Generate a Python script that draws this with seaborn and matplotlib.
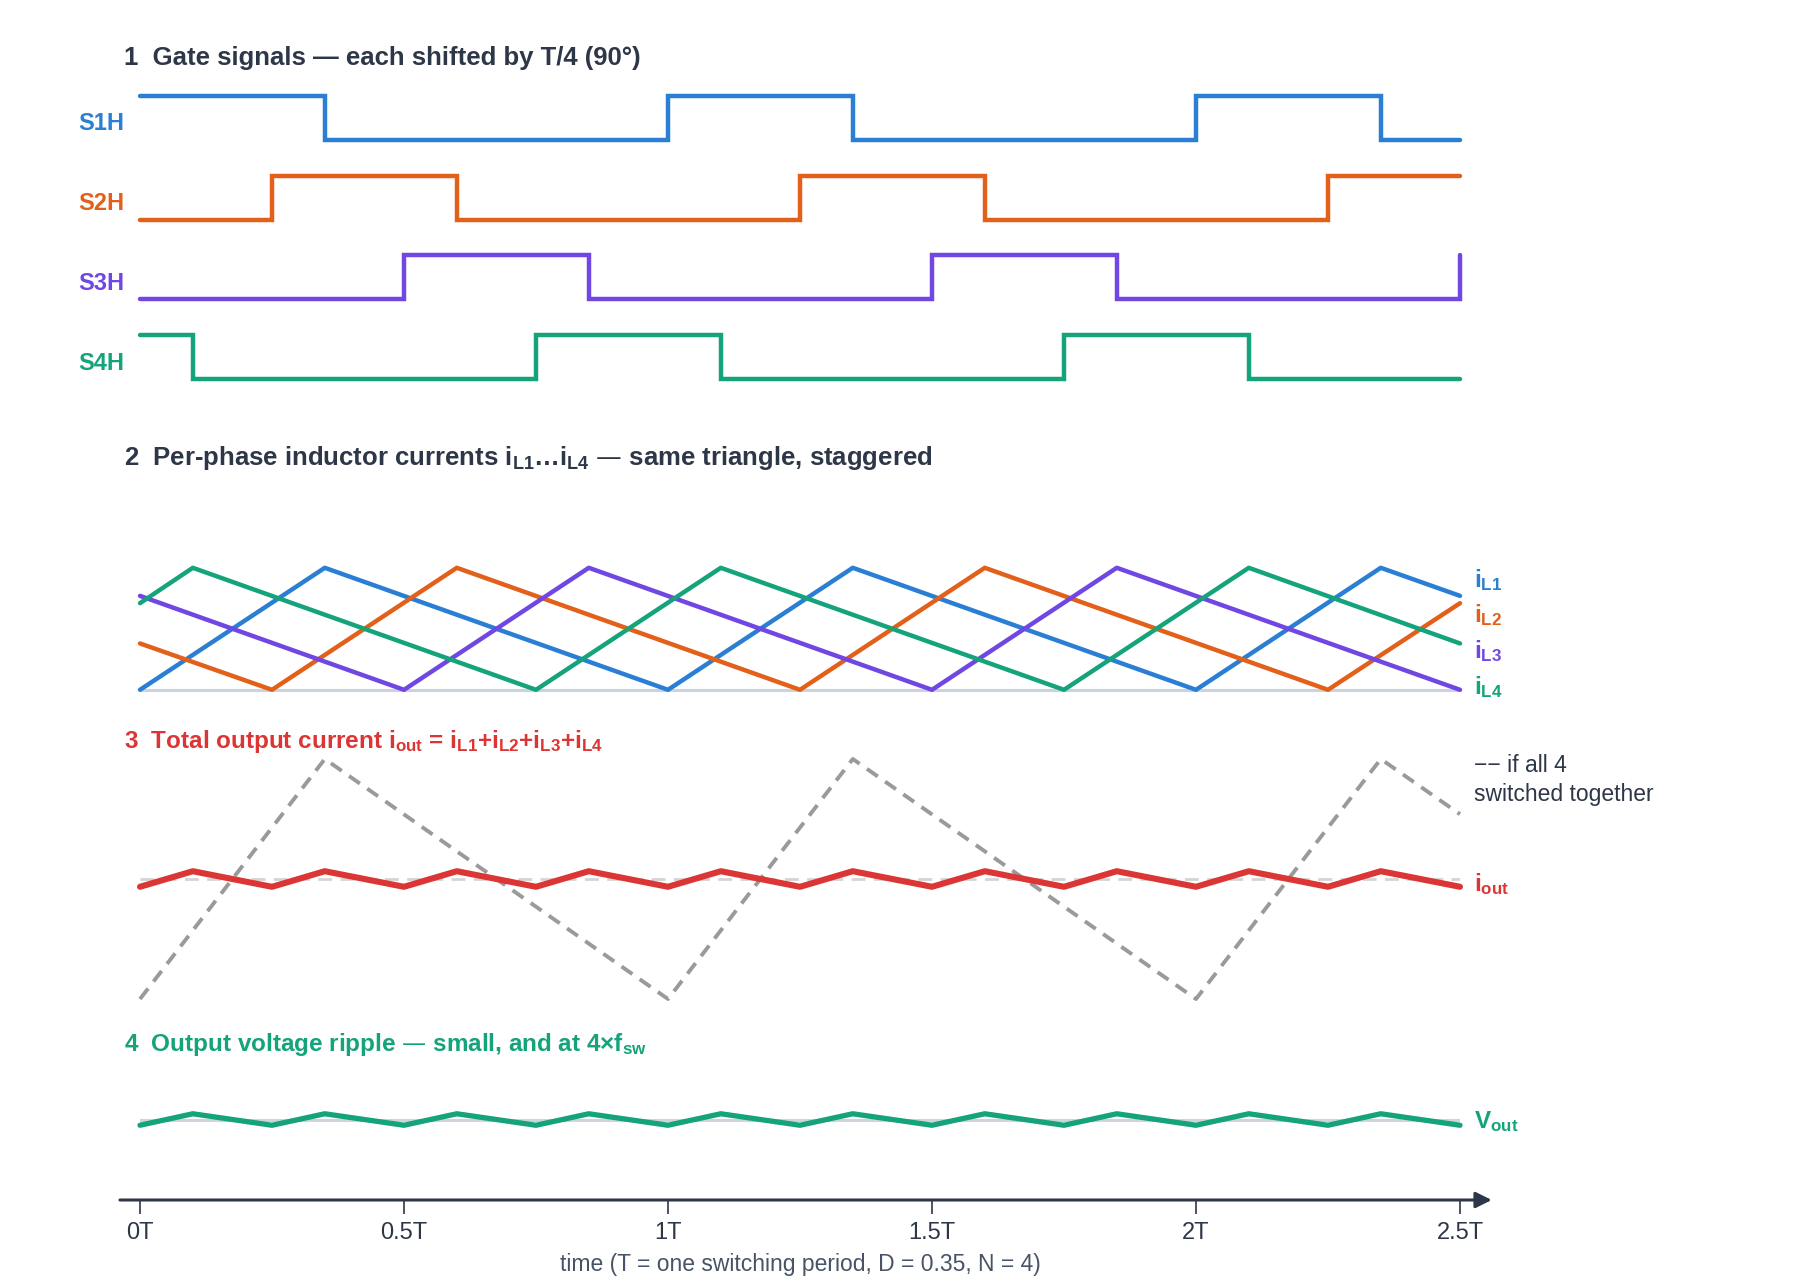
import matplotlib
matplotlib.use("Agg")
import matplotlib.pyplot as plt
import seaborn as sns

# <--- data (time in units of T) --->
# gate signals: switching instants and the state after each instant
s1h_t = [0, 0.35, 1.0, 1.35, 2.0, 2.35, 2.5]
s1h_on = [1, 0, 1, 0, 1, 0, 0]
s2h_t = [0, 0.25, 0.6, 1.25, 1.6, 2.25, 2.5]
s2h_on = [0, 1, 0, 1, 0, 1, 1]
s3h_t = [0, 0.5, 0.85, 1.5, 1.85, 2.5]
s3h_on = [0, 1, 0, 1, 0, 1]
s4h_t = [0, 0.1, 0.75, 1.1, 1.75, 2.1, 2.5]
s4h_on = [1, 0, 1, 0, 1, 0, 0]
gate_names = ["S1H", "S2H", "S3H", "S4H"]

# inductor currents (normalised, 0 = valley, 1 = peak)
il1_t = [0, 0.35, 1.0, 1.35, 2.0, 2.35, 2.5]
il1_v = [0, 1, 0, 1, 0, 1, 0.77]
il2_t = [0, 0.25, 0.6, 1.25, 1.6, 2.25, 2.5]
il2_v = [0.38, 0, 1, 0, 1, 0, 0.71]
il3_t = [0, 0.5, 0.85, 1.5, 1.85, 2.5]
il3_v = [0.77, 0, 1, 0, 1, 0]
il4_t = [0, 0.1, 0.75, 1.1, 1.75, 2.1, 2.5]
il4_v = [0.71, 1, 0, 1, 0, 1, 0.38]

# total output current and the "all in phase" case
together_t = [0, 0.35, 1.0, 1.35, 2.0, 2.35, 2.5]
together_v = [0, 4, 0, 4, 0, 4, 3.08]
iout_t = [0, 0.1, 0.25, 0.35, 0.5, 0.6, 0.75, 0.85, 1.0, 1.1, 1.25,
          1.35, 1.5, 1.6, 1.75, 1.85, 2.0, 2.1, 2.25, 2.35, 2.5]
iout_v = [1.87, 2.13, 1.87, 2.13, 1.87, 2.13, 1.87, 2.13, 1.87, 2.13, 1.87,
          2.13, 1.87, 2.13, 1.87, 2.13, 1.87, 2.13, 1.87, 2.13, 1.87]
iout_mean = 2.0

# output voltage ripple (normalised)
vout_t = iout_t
vout_v = [-1, 1, -1, 1, -1, 1, -1, 1, -1, 1, -1,
          1, -1, 1, -1, 1, -1, 1, -1, 1, -1]

tick_pos = [0, 0.5, 1.0, 1.5, 2.0, 2.5]
tick_labels = ["0T", "0.5T", "1T", "1.5T", "2T", "2.5T"]

# <--- style --->
BLUE, ORANGE, PURPLE, GREEN = "#2a7fd4", "#e2601a", "#7047e3", "#14a37a"
RED, GRAY, DARK = "#dc3535", "#9a9a9a", "#2d3748"

sns.set_theme(style="white")
plt.rcParams["font.family"] = ["Liberation Sans", "DejaVu Sans"]
plt.rcParams["mathtext.default"] = "regular"

W_PX, H_PX = 1800, 1280
fig = plt.figure(figsize=(18, 12.8), dpi=100)


def panel(top_px, bot_px):
    ax = fig.add_axes([140 / W_PX, 1 - bot_px / H_PX, 1320 / W_PX, (bot_px - top_px) / H_PX])
    ax.set_xlim(0, 2.5)
    for s in ax.spines.values():
        s.set_visible(False)
    ax.set_xticks([])
    ax.set_yticks([])
    ax.set_facecolor("none")
    return ax


def line(ax, x, y, color, lw, **kw):
    sns.lineplot(x=x, y=y, ax=ax, color=color, linewidth=lw, estimator=None,
                 sort=False, legend=False, clip_on=False, **kw)


def title(y_px, txt, color, size):
    fig.text(124 / W_PX, 1 - y_px / H_PX, txt, fontsize=size, fontweight="bold",
             color=color, ha="left", va="baseline")


# 1  gate signals
ax1 = panel(80, 400)
ax1.set_ylim(-3.263, 0.751)
gates = [(s1h_t, s1h_on, BLUE), (s2h_t, s2h_on, ORANGE),
         (s3h_t, s3h_on, PURPLE), (s4h_t, s4h_on, GREEN)]
for i, (t, on, c) in enumerate(gates):
    base = -i
    line(ax1, t, [base + 0.55 * s for s in on], c, 3.2,
         drawstyle="steps-post", solid_joinstyle="miter")
    ax1.text(-0.029, base + 0.2, gate_names[i], color=c, fontsize=17,
             fontweight="bold", ha="right", va="center")
title(65, "1  Gate signals \u2014 each shifted by T/4 (90\u00b0)", DARK, 18.5)

# 2  inductor currents
ax2 = panel(549.5, 702)
ax2.set_ylim(-0.1, 1.15)
ax2.plot([0, 2.5], [0, 0], color="#c9d3e2", lw=2.2, zorder=1)
phases = [(il1_t, il1_v, BLUE, "$i_{L1}$", 0.90), (il2_t, il2_v, ORANGE, "$i_{L2}$", 0.61),
          (il3_t, il3_v, PURPLE, "$i_{L3}$", 0.32), (il4_t, il4_v, GREEN, "$i_{L4}$", 0.02)]
for t, v, c, lab, ly in phases:
    line(ax2, t, v, c, 3.2)
for t, v, c, lab, ly in phases:
    ax2.text(2.527, ly, lab, color=c, fontsize=17.5, fontweight="bold",
             ha="left", va="center")
title(465, "2  Per-phase inductor currents $i_{L1}$\u2026$i_{L4}$ \u2014 same triangle, staggered",
      DARK, 18.5)

# 3  total output current
ax3 = panel(747, 1017)
ax3.set_ylim(-0.3, 4.2)
ax3.plot([0, 2.5], [iout_mean, iout_mean], color="#d4d4d4", lw=2.0,
         linestyle=(0, (5, 3)), zorder=1)
line(ax3, together_t, together_v, GRAY, 2.8, linestyle=(0, (3.4, 2.3)))
line(ax3, iout_t, iout_v, RED, 4.4)
ax3.text(2.527, 3.65, "\u2212\u2212 if all 4\nswitched together", color=DARK,
         fontsize=16.5, ha="left", va="center", linespacing=1.3)
ax3.text(2.527, 1.92, "$i_{out}$", color=RED, fontsize=17.5, fontweight="bold",
         ha="left", va="center")
title(748, "3  Total output current $i_{out}$ = $i_{L1}$+$i_{L2}$+$i_{L3}$+$i_{L4}$", RED, 17.5)

# 4  output voltage ripple + time axis
ax4 = panel(1060, 1200)
ax4.set_ylim(-14.0, 10.35)
ax4.plot([0, 2.5], [0, 0], color="#cfd3da", lw=2.2, zorder=1)
line(ax4, vout_t, vout_v, GREEN, 3.8)
ax4.text(2.527, -0.3, "$V_{out}$", color=GREEN, fontsize=17.5, fontweight="bold",
         ha="left", va="center")
title(1051, "4  Output voltage ripple \u2014 small, and at 4\u00d7$f_{sw}$", GREEN, 17.5)

ax4.annotate("", xy=(2.56, 0), xycoords=("data", "axes fraction"),
             xytext=(-0.038, 0), textcoords=("data", "axes fraction"),
             arrowprops=dict(arrowstyle="-|>,head_length=0.8,head_width=0.4",
                             color=DARK, lw=2.2, shrinkA=0, shrinkB=0),
             annotation_clip=False)
ax4.set_xticks(tick_pos)
ax4.set_xticklabels(tick_labels)
ax4.tick_params(axis="x", bottom=True, length=10, width=1.2, color=DARK,
                direction="out", pad=6, labelsize=17, labelcolor=DARK)
fig.text(800 / W_PX, 1 - 1264 / H_PX, "time (T = one switching period, D = 0.35, N = 4)",
         fontsize=16.5, color="#475366", ha="center", va="center")

fig.savefig("out.png", dpi=100, facecolor="white")
